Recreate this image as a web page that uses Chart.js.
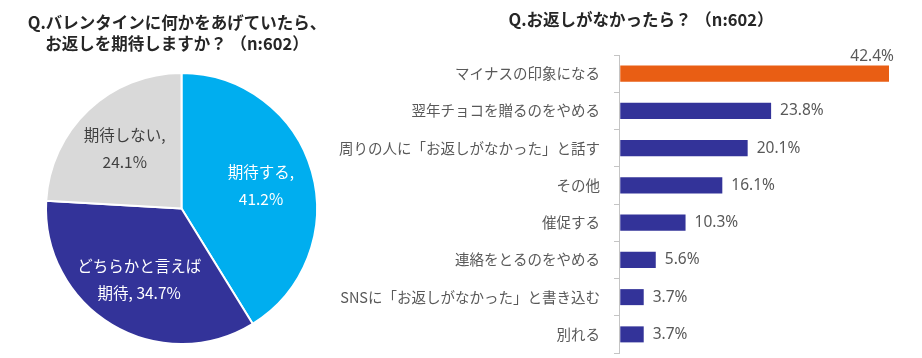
<!DOCTYPE html>
<html><head><meta charset="utf-8">
<script src="https://cdn.jsdelivr.net/npm/chart.js@4.4.1/dist/chart.umd.min.js"></script>
<style>
html,body{margin:0;padding:0;background:#fff;}
#wrap{position:relative;width:922px;height:358px;overflow:hidden;font-family:"Noto Sans CJK JP",sans-serif;}
.t{position:absolute;font-weight:bold;font-size:16.5px;color:#262626;text-align:center;line-height:21px;white-space:nowrap;}
#pieBox{position:absolute;left:0;top:0;width:360px;height:358px;}
#barBox{position:absolute;left:330px;top:0;width:592px;height:358px;}
</style></head>
<body><div id="wrap">
<div id="pieBox"><canvas id="pie"></canvas></div>
<div id="barBox"><canvas id="bar"></canvas></div>
<div class="t" style="left:0;width:354px;top:12px;">Q.バレンタインに何かをあげていたら、<br>お返しを期待しますか？ （n:602）</div>
<div class="t" style="left:480px;width:322px;top:9px;">Q.お返しがなかったら？ （n:602）</div>
</div>
<script>
const pieLabels = ["期待する", "どちらかと言えば期待", "期待しない"];
const pieValues = [41.2, 34.7, 24.1];
const pieTextLines = [["期待する,", "41.2%"], ["どちらかと言えば", "期待, 34.7%"], ["期待しない,", "24.1%"]];

const barCategories = ["マイナスの印象になる", "翌年チョコを贈るのをやめる", "周りの人に「お返しがなかった」と話す", "その他", "催促する", "連絡をとるのをやめる", "SNSに「お返しがなかった」と書き込む", "別れる"];
const barValues = [42.4, 23.8, 20.1, 16.1, 10.3, 5.6, 3.7, 3.7];

const pieColors = ["#00AEEF", "#333399", "#D9D9D9"];
const pieTextColors = ["#ffffff", "#ffffff", "#404040"];

const pieLabelPlugin = {
  id: 'pieLabels',
  afterDatasetsDraw(chart) {
    const ctx = chart.ctx;
    const meta = chart.getDatasetMeta(0);
    ctx.save();
    ctx.font = '15.5px "Noto Sans CJK JP", sans-serif';
    ctx.textAlign = 'center';
    ctx.textBaseline = 'middle';
    meta.data.forEach((arc, i) => {
      const mid = (arc.startAngle + arc.endAngle) / 2;
      const r = arc.outerRadius * 0.61;
      const x = arc.x + Math.cos(mid) * r;
      const y = arc.y + Math.sin(mid) * r;
      ctx.fillStyle = pieTextColors[i];
      const lines = pieTextLines[i];
      const lh = 27;
      lines.forEach((ln, k) => {
        ctx.fillText(ln, x, y + (k - (lines.length - 1) / 2) * lh);
      });
    });
    ctx.restore();
  }
};

new Chart(document.getElementById('pie'), {
  type: 'pie',
  data: { labels: pieLabels, datasets: [{ data: pieValues, backgroundColor: pieColors, borderColor: '#ffffff', borderWidth: 2 }] },
  options: {
    responsive: true, maintainAspectRatio: false, animation: false,
    layout: { padding: { left: 45, right: 42, top: 72, bottom: 13 } },
    plugins: { legend: { display: false }, tooltip: { enabled: false } }
  },
  plugins: [pieLabelPlugin]
});

const barLabelPlugin = {
  id: 'barLabels',
  afterDatasetsDraw(chart) {
    const ctx = chart.ctx;
    const meta = chart.getDatasetMeta(0);
    ctx.save();
    ctx.font = '15.5px "Noto Sans", sans-serif';
    ctx.fillStyle = '#595959';
    meta.data.forEach((bar, i) => {
      const txt = barValues[i].toFixed(1) + '%';
      if (i === 0) {
        ctx.textAlign = 'right';
        ctx.textBaseline = 'middle';
        ctx.fillText(txt, bar.x + 5, bar.y - 17);
      } else {
        ctx.textAlign = 'left';
        ctx.textBaseline = 'middle';
        ctx.fillText(txt, bar.x + 9, bar.y);
      }
    });
    ctx.restore();
  }
};

new Chart(document.getElementById('bar'), {
  type: 'bar',
  data: { labels: barCategories, datasets: [{ data: barValues, backgroundColor: barValues.map((v, i) => i === 0 ? '#E95E14' : '#333399'), barPercentage: 0.43, categoryPercentage: 1 }] },
  options: {
    indexAxis: 'y',
    responsive: true, maintainAspectRatio: false, animation: false,
    layout: { padding: { left: 0, right: 33, top: 55, bottom: 5 } },
    plugins: { legend: { display: false }, tooltip: { enabled: false } },
    scales: {
      x: { display: false, min: -0.2, max: 42.4 },
      y: {
        afterFit(scale) { scale.width = 289; scale.paddingTop = 0; scale.paddingBottom = 0; },
        grid: { display: true, drawOnChartArea: false, drawTicks: true, tickLength: 5, color: '#C4C4C4', lineWidth: 1, offset: true },
        border: { display: true, color: '#C4C4C4', width: 1 },
        ticks: { color: '#595959', font: { family: '"Noto Sans CJK JP", sans-serif', size: 14.5 }, padding: 14, crossAlign: 'near' }
      }
    }
  },
  plugins: [barLabelPlugin]
});
</script>
</body></html>
